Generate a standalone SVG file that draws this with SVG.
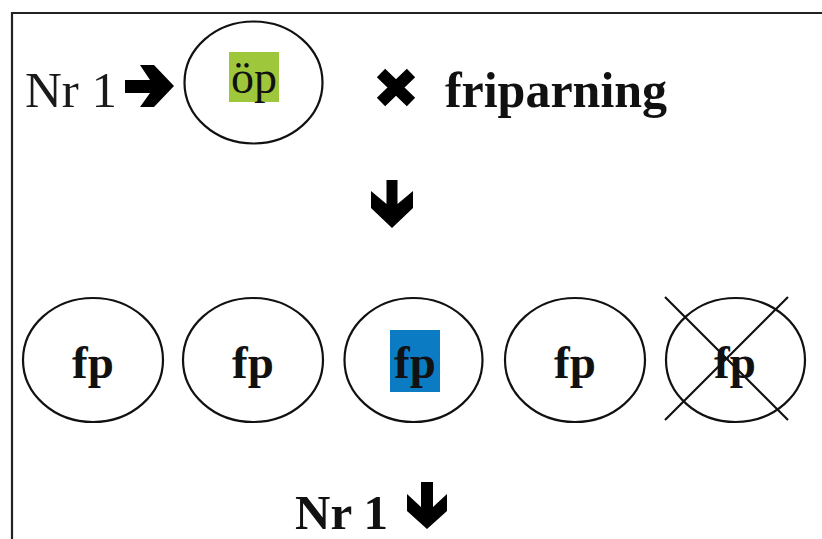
<svg xmlns="http://www.w3.org/2000/svg" width="822" height="539" viewBox="0 0 822 539">
<style>
.node ellipse{fill:none;stroke:#111;stroke-width:2.2}
.lbl{font-family:"Liberation Serif","DejaVu Serif",serif;fill:#111;text-anchor:middle}
.b{font-weight:bold}
.arr{fill:#000}
</style>
<rect width="822" height="539" fill="#fff"/>
<path d="M12,539 V13 H822" fill="none" stroke="#222" stroke-width="2.2"/>
<g id="label-nr1-top"><text x="25" y="107" font-family="Liberation Serif, serif" font-size="51" fill="#1a1a1a">Nr 1</text></g>
<g id="node-op" class="node">
<ellipse cx="253.5" cy="82.5" rx="69" ry="61"/>
<rect x="229" y="52" width="50" height="50" fill="#9fc73c"/>
<text x="254" y="93" font-family="Liberation Serif, DejaVu Serif, serif" font-size="46" fill="#111" text-anchor="middle">&#246;p</text>
</g>
<g id="label-cross"><path d="M381,73 L411,102 M411,73 L381,102" stroke="#000" stroke-width="12"/></g>
<g id="label-friparning"><text class="lbl b" x="556" y="107" font-size="50">friparning</text></g>
<g id="node-fp1" class="node"><ellipse cx="93" cy="360" rx="70" ry="62"/><text class="lbl b" x="93" y="378" font-size="47">fp</text></g>
<g id="node-fp2" class="node"><ellipse cx="253" cy="360" rx="70" ry="62"/><text class="lbl b" x="253" y="378" font-size="47">fp</text></g>
<g id="node-fp3" class="node"><ellipse cx="413.5" cy="360" rx="69" ry="62"/><rect x="390" y="330" width="50" height="62" fill="#0b7cc3"/><text class="lbl b" x="415" y="378" font-size="47">fp</text></g>
<g id="node-fp4" class="node"><ellipse cx="575" cy="360" rx="70" ry="62"/><text class="lbl b" x="575" y="378" font-size="47">fp</text></g>
<g id="node-fp5" class="node"><ellipse cx="735.5" cy="360" rx="69.5" ry="62"/><text class="lbl b" x="735" y="378" font-size="47">fp</text>
<path d="M665,297 L788,420 M788,297 L665,420" stroke="#111" stroke-width="2.2" fill="none"/></g>
<g id="label-nr1-bottom"><text x="295" y="529" font-family="Liberation Serif, serif" font-weight="bold" font-size="49" fill="#111">Nr 1</text></g>
<g id="connectors">
<path class="arr" d="M125,80 H150 L140,65 H154 L174,86 L154,107 H140 L150,93 H125 Z"/>
<path class="arr" d="M386.5,180 H397.5 V204 L413,191 V208 L392,228 L371,208 V191 L386.5,204 Z"/>
<path class="arr" d="M421,482 H433 V507 L447,494 V511 L427,529 L407,511 V494 L421,507 Z"/>
</g>
</svg>
